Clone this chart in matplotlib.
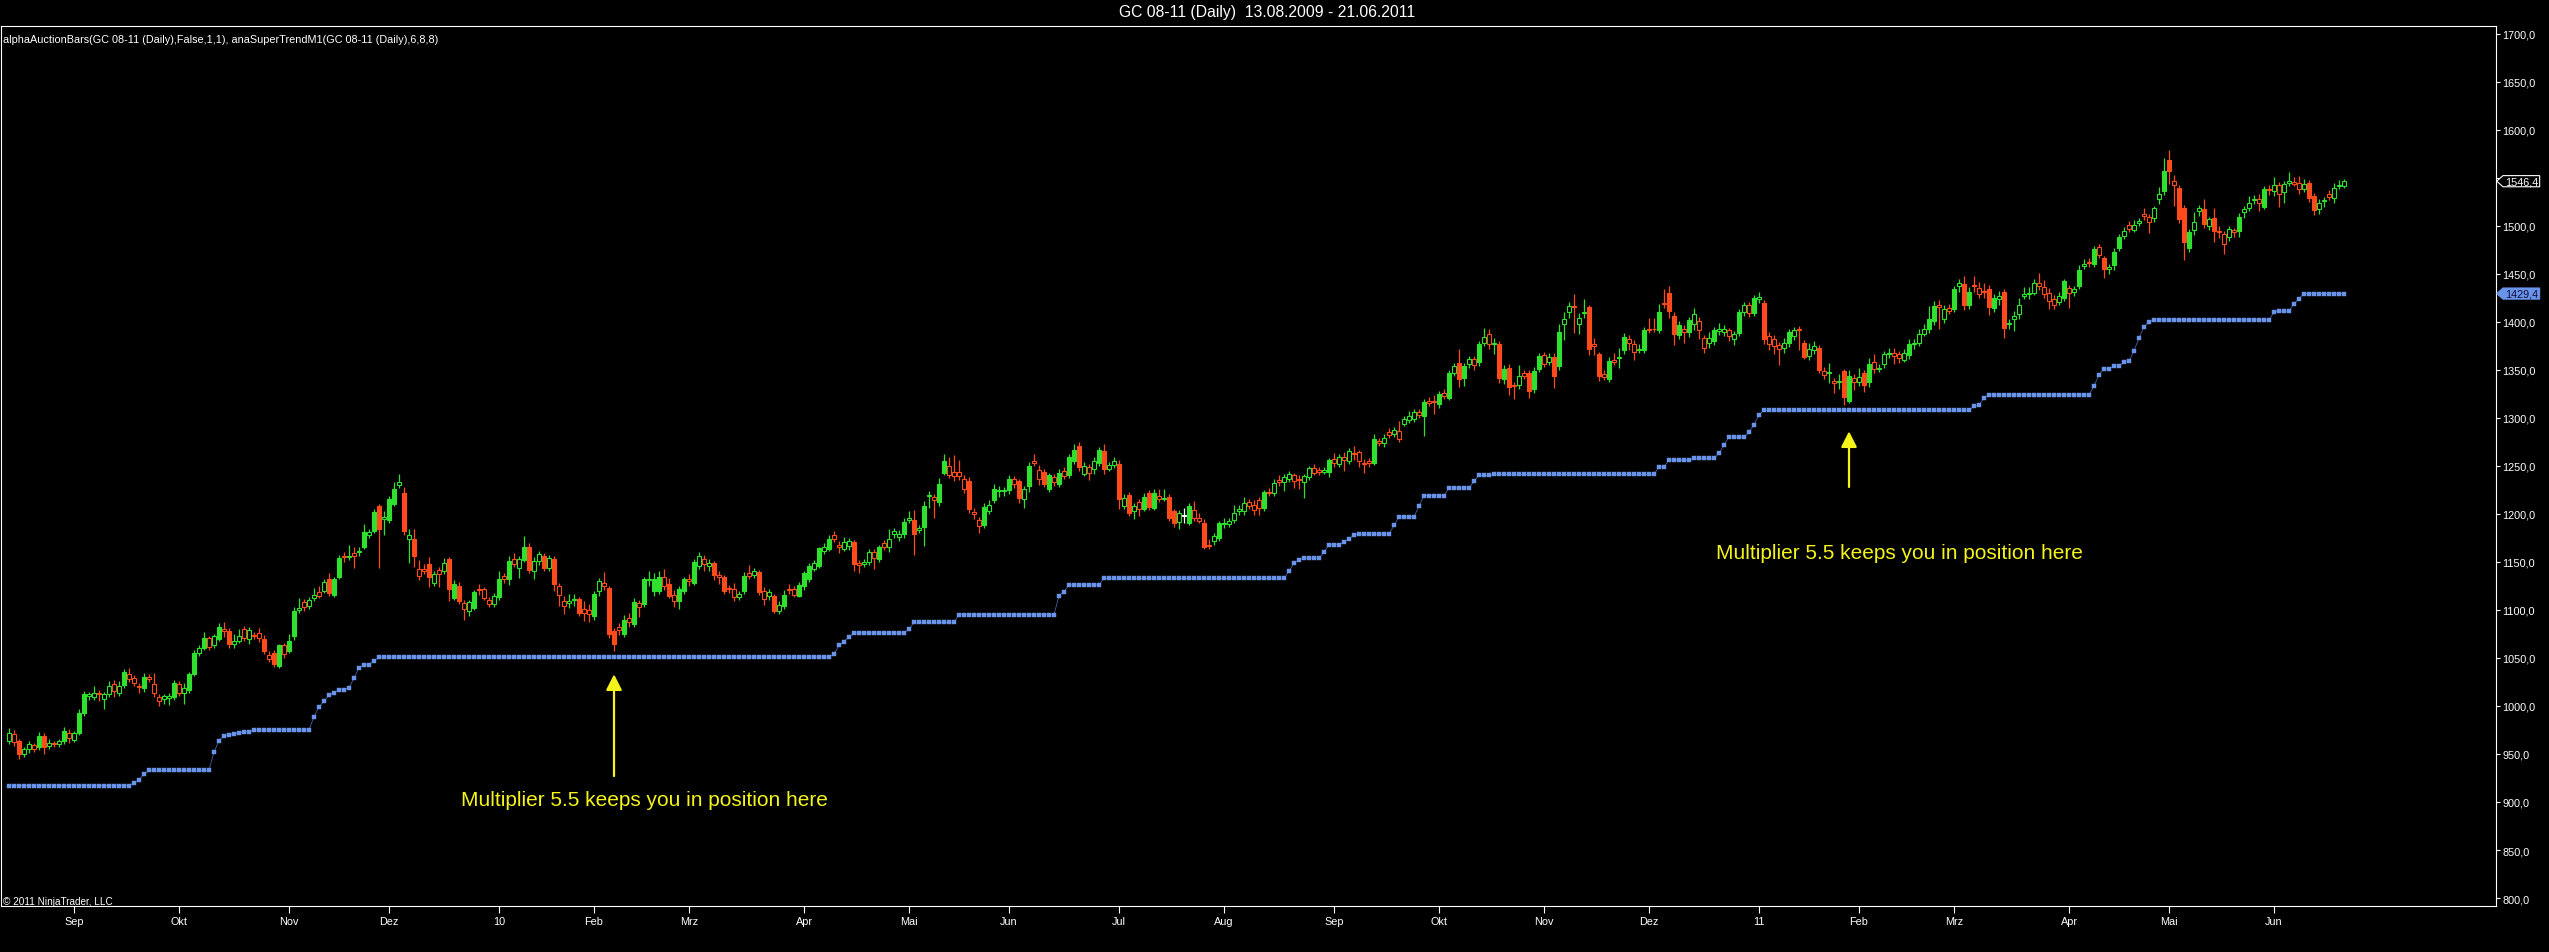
import numpy as np
import pandas as pd
import matplotlib
matplotlib.use("Agg")
import matplotlib.pyplot as plt
from matplotlib.patches import Polygon
from matplotlib.transforms import blended_transform_factory

plt.rcParams['font.family'] = ['Liberation Sans', 'DejaVu Sans']

# ---- data, one value per daily bar ----
opens = [
    964, 971, 964, 950, 955, 959, 957, 969, 958, 961, 960, 963, 972, 965, 972, 993, 1010, 1009, 1014, 1007,
    1012, 1023, 1014, 1022, 1033, 1029, 1021, 1019, 1030, 1023, 1009, 1007, 1008, 1009, 1023, 1014, 1017, 1033, 1055, 1060,
    1071, 1063, 1070, 1080, 1078, 1065, 1068, 1080, 1070, 1074, 1076, 1070, 1053, 1055, 1042, 1063, 1057, 1073, 1100, 1108,
    1104, 1112, 1119, 1120, 1132, 1116, 1134, 1156, 1155, 1159, 1160, 1166, 1178, 1182, 1208, 1195, 1194, 1210, 1230, 1222,
    1174, 1174, 1143, 1143, 1148, 1128, 1142, 1140, 1153, 1112, 1125, 1107, 1099, 1102, 1122, 1122, 1110, 1106, 1113, 1135,
    1132, 1153, 1144, 1152, 1165, 1141, 1151, 1156, 1144, 1153, 1125, 1109, 1107, 1110, 1111, 1101, 1100, 1094, 1120, 1128,
    1123, 1078, 1082, 1075, 1092, 1085, 1107, 1106, 1131, 1120, 1120, 1134, 1127, 1116, 1109, 1120, 1132, 1128, 1146, 1153,
    1146, 1149, 1136, 1134, 1123, 1122, 1113, 1120, 1138, 1136, 1139, 1120, 1115, 1115, 1099, 1104, 1122, 1122, 1115, 1125,
    1132, 1143, 1146, 1161, 1163, 1178, 1168, 1163, 1167, 1171, 1149, 1148, 1150, 1160, 1153, 1170, 1165, 1179, 1176, 1179,
    1194, 1194, 1183, 1186, 1219, 1218, 1212, 1243, 1250, 1244, 1244, 1236, 1234, 1202, 1194, 1188, 1203, 1214, 1224, 1224,
    1225, 1236, 1234, 1216, 1229, 1255, 1246, 1244, 1226, 1238, 1231, 1245, 1240, 1255, 1271, 1242, 1249, 1247, 1253, 1265,
    1247, 1251, 1252, 1208, 1220, 1203, 1212, 1205, 1222, 1206, 1219, 1216, 1218, 1203, 1192, 1198, 1191, 1204, 1196, 1191,
    1168, 1172, 1175, 1189, 1189, 1194, 1203, 1203, 1212, 1209, 1214, 1206, 1223, 1222, 1235, 1233, 1236, 1240, 1236, 1233,
    1238, 1248, 1246, 1244, 1244, 1257, 1252, 1259, 1255, 1263, 1264, 1253, 1255, 1253, 1276, 1274, 1285, 1283, 1286, 1294,
    1298, 1299, 1306, 1302, 1318, 1318, 1314, 1326, 1321, 1347, 1357, 1341, 1356, 1361, 1358, 1378, 1387, 1377, 1377, 1340,
    1352, 1334, 1334, 1347, 1347, 1330, 1351, 1365, 1358, 1363, 1354, 1398, 1410, 1416, 1398, 1409, 1415, 1377, 1366, 1346,
    1340, 1360, 1362, 1371, 1382, 1377, 1371, 1371, 1392, 1393, 1391, 1420, 1430, 1406, 1386, 1392, 1389, 1398, 1401, 1383,
    1378, 1380, 1390, 1389, 1391, 1382, 1388, 1410, 1417, 1409, 1424, 1420, 1385, 1382, 1376, 1373, 1378, 1385, 1392, 1378,
    1364, 1371, 1373, 1349, 1347, 1338, 1337, 1349, 1318, 1341, 1337, 1347, 1337, 1358, 1351, 1356, 1366, 1367, 1366, 1360,
    1365, 1377, 1378, 1387, 1392, 1401, 1418, 1403, 1414, 1413, 1437, 1439, 1417, 1438, 1435, 1432, 1434, 1414, 1424, 1431,
    1398, 1403, 1408, 1427, 1429, 1430, 1440, 1436, 1430, 1424, 1421, 1425, 1435, 1431, 1437, 1458, 1462, 1460, 1478, 1466,
    1455, 1459, 1477, 1489, 1501, 1496, 1503, 1512, 1509, 1508, 1528, 1536, 1568, 1547, 1539, 1518, 1477, 1496, 1515, 1517,
    1500, 1508, 1495, 1491, 1488, 1496, 1495, 1514, 1518, 1527, 1528, 1520, 1538, 1536, 1542, 1535, 1545, 1546, 1545, 1538,
    1545, 1531, 1517, 1526, 1533, 1529, 1541, 1541,
]
closes = [
    972, 962, 950, 955, 960, 955, 969, 957, 961, 960, 963, 974, 967, 972, 993, 1012, 1012, 1014, 1012, 1012,
    1021, 1016, 1021, 1035, 1028, 1024, 1020, 1030, 1028, 1013, 1005, 1010, 1010, 1024, 1014, 1019, 1033, 1055, 1060, 1071,
    1061, 1073, 1082, 1078, 1064, 1068, 1073, 1071, 1079, 1073, 1071, 1057, 1049, 1044, 1063, 1054, 1068, 1099, 1102, 1103,
    1110, 1116, 1115, 1129, 1118, 1132, 1154, 1155, 1156, 1156, 1161, 1181, 1181, 1202, 1184, 1197, 1215, 1226, 1233, 1182,
    1178, 1156, 1135, 1140, 1134, 1137, 1137, 1149, 1122, 1127, 1109, 1101, 1108, 1119, 1121, 1112, 1106, 1114, 1132, 1132,
    1151, 1148, 1153, 1165, 1142, 1151, 1158, 1144, 1154, 1127, 1116, 1104, 1109, 1111, 1097, 1097, 1096, 1117, 1130, 1125,
    1075, 1064, 1079, 1090, 1087, 1108, 1103, 1132, 1132, 1132, 1134, 1125, 1115, 1109, 1122, 1132, 1130, 1150, 1156, 1148,
    1149, 1136, 1134, 1120, 1122, 1113, 1117, 1135, 1135, 1141, 1119, 1111, 1119, 1099, 1105, 1116, 1121, 1116, 1126, 1138,
    1146, 1149, 1164, 1165, 1174, 1174, 1166, 1171, 1172, 1148, 1147, 1150, 1160, 1154, 1165, 1165, 1174, 1182, 1179, 1192,
    1196, 1179, 1185, 1208, 1220, 1214, 1231, 1255, 1240, 1239, 1239, 1226, 1205, 1200, 1187, 1207, 1209, 1226, 1225, 1225,
    1236, 1231, 1217, 1226, 1250, 1253, 1236, 1231, 1240, 1233, 1243, 1239, 1259, 1267, 1249, 1250, 1243, 1255, 1267, 1247,
    1251, 1255, 1215, 1217, 1201, 1208, 1205, 1218, 1207, 1222, 1215, 1217, 1196, 1191, 1201, 1198, 1208, 1196, 1193, 1166,
    1167, 1177, 1190, 1190, 1193, 1201, 1205, 1211, 1208, 1204, 1206, 1223, 1222, 1232, 1233, 1238, 1241, 1234, 1235, 1239,
    1248, 1243, 1244, 1246, 1256, 1253, 1259, 1256, 1265, 1262, 1255, 1252, 1253, 1278, 1274, 1279, 1282, 1287, 1278, 1299,
    1302, 1306, 1303, 1316, 1315, 1316, 1325, 1323, 1347, 1354, 1340, 1354, 1361, 1355, 1377, 1384, 1377, 1378, 1342, 1351,
    1332, 1333, 1344, 1344, 1328, 1349, 1364, 1356, 1363, 1344, 1389, 1403, 1416, 1415, 1404, 1410, 1372, 1375, 1344, 1343,
    1359, 1358, 1363, 1384, 1378, 1369, 1372, 1391, 1391, 1392, 1410, 1419, 1411, 1387, 1397, 1389, 1402, 1408, 1391, 1373,
    1383, 1391, 1393, 1392, 1385, 1387, 1410, 1417, 1409, 1425, 1426, 1382, 1377, 1375, 1372, 1378, 1389, 1391, 1391, 1363,
    1372, 1375, 1350, 1345, 1348, 1336, 1338, 1322, 1344, 1337, 1343, 1334, 1356, 1351, 1352, 1366, 1368, 1364, 1362, 1367,
    1377, 1378, 1387, 1392, 1403, 1416, 1415, 1413, 1411, 1434, 1440, 1418, 1431, 1437, 1429, 1431, 1415, 1425, 1427, 1394,
    1399, 1406, 1418, 1429, 1430, 1440, 1437, 1429, 1422, 1418, 1427, 1442, 1430, 1434, 1454, 1460, 1461, 1476, 1470, 1455,
    1457, 1473, 1488, 1495, 1497, 1501, 1505, 1510, 1504, 1518, 1533, 1557, 1557, 1542, 1507, 1483, 1493, 1504, 1518, 1502,
    1507, 1495, 1493, 1481, 1497, 1493, 1509, 1517, 1524, 1528, 1524, 1538, 1537, 1542, 1533, 1543, 1547, 1544, 1538, 1543,
    1529, 1516, 1524, 1527, 1530, 1539, 1542, 1546.4,
]
highs = [
    977, 975, 966, 957, 963, 961, 973, 972, 966, 963, 966, 978, 976, 974, 997, 1016, 1015, 1021, 1017, 1015,
    1026, 1027, 1026, 1038, 1040, 1032, 1024, 1034, 1033, 1034, 1012, 1012, 1013, 1027, 1026, 1024, 1035, 1058, 1063, 1077,
    1073, 1075, 1086, 1087, 1081, 1075, 1080, 1083, 1082, 1077, 1081, 1074, 1057, 1058, 1065, 1066, 1075, 1103, 1112, 1111,
    1113, 1123, 1125, 1132, 1138, 1134, 1157, 1160, 1168, 1165, 1166, 1189, 1184, 1205, 1210, 1203, 1219, 1233, 1241, 1228,
    1184, 1184, 1152, 1148, 1155, 1141, 1145, 1154, 1155, 1131, 1129, 1110, 1110, 1121, 1127, 1124, 1113, 1118, 1140, 1138,
    1156, 1159, 1156, 1177, 1170, 1155, 1161, 1159, 1157, 1156, 1128, 1114, 1117, 1117, 1113, 1109, 1106, 1120, 1133, 1139,
    1125, 1081, 1086, 1095, 1097, 1112, 1110, 1134, 1140, 1138, 1140, 1143, 1133, 1121, 1125, 1134, 1137, 1153, 1160, 1157,
    1153, 1151, 1140, 1136, 1126, 1128, 1120, 1139, 1147, 1144, 1142, 1124, 1122, 1117, 1109, 1121, 1127, 1125, 1129, 1141,
    1149, 1152, 1166, 1170, 1178, 1182, 1172, 1176, 1175, 1173, 1152, 1153, 1163, 1163, 1168, 1173, 1184, 1185, 1183, 1196,
    1203, 1204, 1188, 1213, 1224, 1221, 1237, 1262, 1259, 1261, 1256, 1240, 1238, 1206, 1197, 1211, 1214, 1231, 1229, 1228,
    1240, 1239, 1236, 1229, 1254, 1262, 1251, 1247, 1243, 1241, 1247, 1249, 1262, 1273, 1275, 1254, 1252, 1259, 1270, 1273,
    1254, 1259, 1256, 1221, 1223, 1211, 1215, 1222, 1225, 1226, 1226, 1226, 1221, 1205, 1204, 1206, 1211, 1213, 1201, 1195,
    1174, 1180, 1193, 1196, 1196, 1209, 1209, 1218, 1216, 1214, 1218, 1225, 1227, 1236, 1240, 1242, 1245, 1243, 1240, 1242,
    1250, 1252, 1249, 1249, 1258, 1263, 1262, 1264, 1269, 1271, 1267, 1257, 1258, 1283, 1279, 1283, 1289, 1290, 1297, 1302,
    1307, 1309, 1309, 1320, 1322, 1324, 1328, 1330, 1350, 1357, 1372, 1357, 1364, 1364, 1380, 1394, 1392, 1383, 1380, 1355,
    1356, 1337, 1355, 1350, 1350, 1353, 1368, 1369, 1367, 1367, 1398, 1410, 1421, 1429, 1409, 1424, 1418, 1383, 1369, 1350,
    1363, 1368, 1373, 1388, 1386, 1381, 1377, 1395, 1404, 1404, 1419, 1434, 1437, 1410, 1401, 1397, 1405, 1414, 1405, 1386,
    1389, 1395, 1399, 1397, 1394, 1390, 1413, 1421, 1421, 1428, 1431, 1423, 1389, 1386, 1379, 1383, 1393, 1395, 1396, 1381,
    1378, 1380, 1376, 1353, 1357, 1342, 1346, 1351, 1350, 1346, 1352, 1350, 1362, 1366, 1356, 1370, 1373, 1373, 1370, 1372,
    1382, 1382, 1393, 1398, 1416, 1422, 1423, 1418, 1419, 1437, 1445, 1448, 1436, 1448, 1441, 1440, 1438, 1429, 1432, 1434,
    1403, 1411, 1425, 1436, 1436, 1445, 1451, 1444, 1435, 1428, 1431, 1445, 1438, 1437, 1459, 1465, 1466, 1479, 1481, 1469,
    1460, 1477, 1491, 1499, 1505, 1506, 1508, 1519, 1512, 1521, 1540, 1571, 1579, 1553, 1542, 1522, 1497, 1514, 1522, 1528,
    1509, 1518, 1500, 1495, 1500, 1498, 1513, 1521, 1531, 1532, 1533, 1541, 1542, 1551, 1546, 1547, 1556, 1551, 1552, 1549,
    1548, 1534, 1528, 1530, 1537, 1545, 1548, 1549,
]
lows = [
    960, 958, 945, 947, 951, 952, 954, 950, 955, 957, 957, 960, 961, 962, 970, 990, 1006, 1006, 1005, 997,
    1009, 1009, 1010, 1019, 1025, 1021, 1013, 1015, 1025, 1009, 1000, 1002, 1001, 1006, 1010, 1002, 1014, 1031, 1052, 1058,
    1058, 1060, 1068, 1072, 1060, 1060, 1066, 1068, 1065, 1070, 1067, 1054, 1046, 1041, 1040, 1050, 1055, 1069, 1097, 1099,
    1101, 1109, 1112, 1118, 1115, 1113, 1132, 1150, 1152, 1144, 1156, 1163, 1175, 1180, 1144, 1178, 1191, 1208, 1227, 1178,
    1149, 1145, 1131, 1137, 1124, 1125, 1124, 1137, 1109, 1110, 1106, 1090, 1094, 1100, 1116, 1110, 1103, 1103, 1110, 1128,
    1126, 1145, 1133, 1150, 1138, 1132, 1147, 1141, 1141, 1120, 1104, 1096, 1102, 1104, 1094, 1088, 1087, 1090, 1115, 1121,
    1071, 1057, 1074, 1072, 1082, 1082, 1093, 1103, 1125, 1115, 1117, 1121, 1112, 1103, 1101, 1117, 1125, 1126, 1143, 1141,
    1140, 1131, 1127, 1117, 1118, 1109, 1110, 1117, 1132, 1133, 1116, 1105, 1110, 1097, 1096, 1101, 1117, 1113, 1113, 1121,
    1129, 1140, 1144, 1158, 1161, 1171, 1159, 1161, 1162, 1140, 1138, 1145, 1147, 1143, 1150, 1162, 1160, 1175, 1172, 1175,
    1191, 1157, 1180, 1167, 1206, 1196, 1208, 1240, 1237, 1234, 1235, 1222, 1201, 1195, 1180, 1185, 1200, 1211, 1218, 1219,
    1221, 1227, 1211, 1206, 1223, 1250, 1230, 1228, 1223, 1229, 1228, 1236, 1237, 1252, 1245, 1239, 1235, 1241, 1250, 1241,
    1245, 1248, 1205, 1205, 1198, 1195, 1198, 1203, 1204, 1204, 1212, 1213, 1193, 1186, 1184, 1191, 1188, 1193, 1190, 1163,
    1163, 1168, 1172, 1185, 1186, 1190, 1199, 1199, 1205, 1199, 1199, 1203, 1219, 1219, 1229, 1224, 1233, 1227, 1226, 1217,
    1235, 1240, 1240, 1241, 1238, 1249, 1249, 1245, 1252, 1256, 1249, 1243, 1249, 1251, 1271, 1270, 1279, 1280, 1275, 1291,
    1295, 1296, 1300, 1281, 1312, 1304, 1310, 1320, 1319, 1344, 1332, 1333, 1352, 1350, 1354, 1375, 1372, 1366, 1336, 1335,
    1324, 1320, 1330, 1340, 1321, 1326, 1348, 1353, 1355, 1331, 1350, 1381, 1404, 1388, 1387, 1404, 1365, 1365, 1338, 1339,
    1337, 1355, 1352, 1366, 1371, 1360, 1368, 1368, 1388, 1389, 1388, 1414, 1404, 1376, 1382, 1378, 1384, 1391, 1382, 1367,
    1373, 1376, 1386, 1385, 1380, 1376, 1385, 1406, 1405, 1406, 1420, 1377, 1371, 1366, 1355, 1368, 1374, 1381, 1371, 1361,
    1360, 1366, 1347, 1340, 1336, 1326, 1330, 1313, 1315, 1329, 1333, 1327, 1332, 1347, 1348, 1352, 1362, 1356, 1357, 1358,
    1361, 1372, 1375, 1385, 1388, 1397, 1393, 1399, 1408, 1410, 1431, 1412, 1413, 1431, 1425, 1425, 1407, 1410, 1418, 1383,
    1393, 1390, 1403, 1424, 1424, 1428, 1433, 1425, 1413, 1413, 1417, 1422, 1414, 1427, 1434, 1455, 1457, 1457, 1466, 1446,
    1450, 1454, 1474, 1486, 1494, 1493, 1500, 1506, 1492, 1504, 1523, 1532, 1543, 1521, 1503, 1464, 1473, 1490, 1510, 1498,
    1496, 1483, 1487, 1471, 1484, 1488, 1488, 1508, 1515, 1523, 1515, 1517, 1532, 1531, 1520, 1524, 1541, 1541, 1533, 1535,
    1525, 1511, 1512, 1520, 1527, 1524, 1538, 1539,
]
# SuperTrend stop level per bar
supertrend = (
    [917] * 25 + [920, 923, 929] + [933] * 13
    + [952, 964, 969, 970, 971, 972, 973, 973] + [975] * 12
    + [989, 999, 1005, 1011, 1014, 1017, 1017, 1019, 1029, 1040, 1043, 1043, 1047] + [1051] * 91
    + [1054, 1063, 1067, 1072] + [1076] * 11 + [1080] + [1087] * 9 + [1095] * 20
    + [1115, 1119] + [1126] * 7 + [1133] * 37 + [1140, 1149, 1152] + [1154] * 4 + [1160] + [1168] * 3
    + [1171, 1174, 1178] + [1179] * 7 + [1188] + [1197] * 4 + [1208] + [1219] * 5 + [1227] * 5
    + [1234] + [1240] * 3 + [1241] * 33 + [1249, 1249] + [1256] * 5 + [1258] * 5 + [1263, 1272]
    + [1280] * 4 + [1285, 1293, 1303] + [1308] * 42 + [1312, 1313, 1321] + [1324] * 21
    + [1333, 1345, 1351, 1351, 1354, 1354, 1358, 1359, 1370, 1383, 1395, 1400] + [1402] * 24
    + [1410] + [1411] * 3 + [1419, 1424] + [1429.4] * 9
)

holidays = ['2009-09-07', '2009-11-26', '2009-12-25', '2010-01-01', '2010-01-18', '2010-02-15',
            '2010-04-02', '2010-05-31', '2010-07-05', '2010-09-06', '2010-11-25', '2010-12-24',
            '2011-01-17', '2011-02-21', '2011-04-22', '2011-05-30']
month_labels = {2: 'Feb', 3: 'Mrz', 4: 'Apr', 5: 'Mai', 6: 'Jun', 7: 'Jul',
                8: 'Aug', 9: 'Sep', 10: 'Okt', 11: 'Nov', 12: 'Dez'}
y_ticks = list(range(800, 1701, 50))

title = 'GC 08-11 (Daily)  13.08.2009 - 21.06.2011'
indicator_text = 'alphaAuctionBars(GC 08-11 (Daily),False,1,1), anaSuperTrendM1(GC 08-11 (Daily),6,8,8)'
note = 'Multiplier 5.5 keeps you in position here'
notes = [(121, 1033, 927, 127, 903), (368, 1286, 1228, 378, 1160)]  # bar, tip, tail, text x, text y

assert len(opens) == len(closes) == len(highs) == len(lows) == len(supertrend) == 468

# ---- prep ----
dates = pd.bdate_range('2009-08-13', '2011-06-21')
dates = dates[~dates.isin(pd.to_datetime(holidays))]
o = np.array(opens, float)
c = np.array(closes, float)
h = np.maximum(np.array(highs, float), np.maximum(o, c))
l = np.minimum(np.array(lows, float), np.minimum(o, c))
x = np.arange(len(c))

UP = '#2FE02F'
DOWN = '#FF4B1C'
ST_BLUE = '#6A93EA'
YELLOW = '#F4F41A'

cols = np.where(c > o, UP, np.where(c < o, DOWN, '#FFFFFF'))
body_lo = np.minimum(o, c)
body_h = np.maximum(np.abs(c - o), 0.7)
filled = np.abs(c - o) >= 11
faces = np.where(filled, cols, '#000000')

fig = plt.figure(figsize=(25.49, 9.53), dpi=100, facecolor='black')
ax = fig.add_axes([0.0004, 1 - 907 / 953, 2496 / 2549 - 0.0004, 880 / 953])
ax.set_facecolor('black')

ax.vlines(x, l, h, colors=cols, lw=0.9, zorder=2)
ax.bar(x, body_h, bottom=body_lo, width=0.62, color=faces, edgecolor=cols, linewidth=0.8, zorder=3)

# supertrend: thin connecting line plus square dots
ax.plot(x, supertrend, color='#4C6FC0', lw=0.5, zorder=4)
ax.plot(x, supertrend, ls='none', marker='s', ms=2.4, mfc=ST_BLUE, mec=ST_BLUE, mew=0.3, zorder=4)

for bar, tip, tail, tx, ty in notes:
    ax.annotate('', xy=(bar, tip), xytext=(bar, tail),
                arrowprops=dict(arrowstyle='-|>,head_width=0.48,head_length=0.95', color=YELLOW,
                                lw=1.6, mutation_scale=10, shrinkA=0, shrinkB=0), zorder=5)
    ax.text(tx, ty, note, color=YELLOW, fontsize=15, ha='center', va='center', zorder=5)

ax.set_xlim(-1.6, 497.4)
ax.set_ylim(791.7, 1708)

# month ticks at first bar of each month
tick_pos, tick_lab = [], []
for i in range(1, len(dates)):
    if dates[i].month != dates[i - 1].month:
        tick_pos.append(i)
        m = dates[i].month
        tick_lab.append(month_labels[m] if m != 1 else dates[i].strftime('%y'))
ax.set_xticks(tick_pos)
ax.set_xticklabels(tick_lab)

ax.yaxis.tick_right()
ax.set_yticks(y_ticks)
ax.set_yticklabels([f'{v:.1f}'.replace('.', ',') for v in y_ticks])
ax.tick_params(axis='y', colors='white', direction='out', length=3, width=0.8, pad=1.5, labelsize=7.8)
ax.tick_params(axis='x', colors='white', direction='out', length=5, width=0.8, pad=2.5, labelsize=7.8)
for s in ax.spines.values():
    s.set_color('white')
    s.set_linewidth(0.8)

# last-value markers on the price scale
tr = blended_transform_factory(ax.transAxes, ax.transData)
for val, face, edge, tcol in [(closes[-1], '#000000', '#FFFFFF', '#FFFFFF'),
                              (supertrend[-1], ST_BLUE, ST_BLUE, '#101038')]:
    hh = 5.8
    pts = [(1.0003, val), (1.0028, val - hh), (1.0175, val - hh), (1.0175, val + hh), (1.0028, val + hh)]
    ax.add_patch(Polygon(pts, closed=True, transform=tr, facecolor=face, edgecolor=edge,
                         lw=0.8, clip_on=False, zorder=6))
    ax.text(1.0036, val, f'{val:.1f}'.replace('.', ','), transform=tr, color=tcol,
            fontsize=7.8, ha='left', va='center', clip_on=False, zorder=7)

fig.text(1267 / 2549, 1 - 13 / 953, title, color='white', fontsize=11.3, ha='center', va='center')
fig.text(3 / 2549, 1 - 40 / 953, indicator_text, color='white', fontsize=7.8, ha='left', va='center')
fig.text(3 / 2549, 1 - 902 / 953, '\u00a9 2011 NinjaTrader, LLC', color='white', fontsize=7.2,
         ha='left', va='center')

fig.savefig('out.png', dpi=100, facecolor='black')
